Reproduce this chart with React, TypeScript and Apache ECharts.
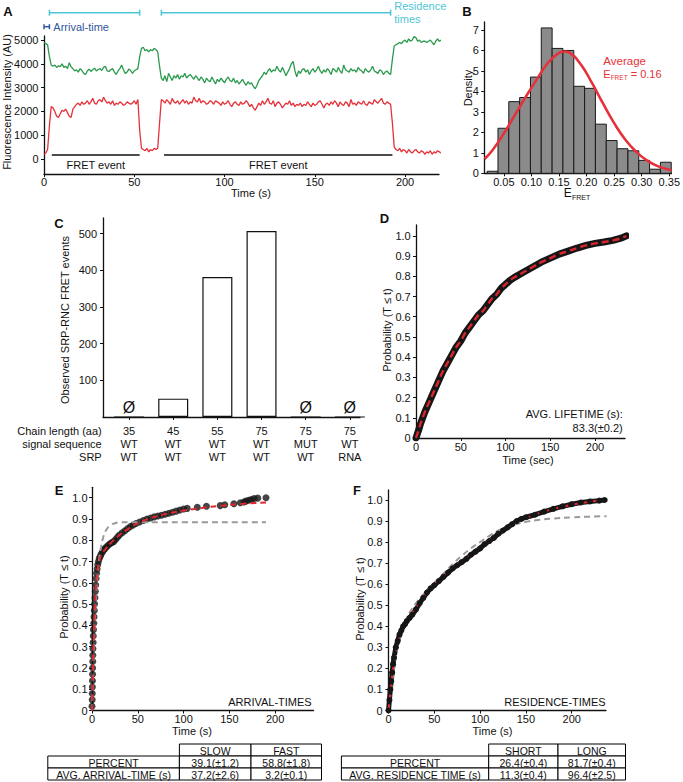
import React, { useEffect, useRef } from "react";
import * as echarts from "echarts";

const FONT = "'Liberation Sans', Arial, Helvetica, sans-serif";
const INK = "#111";
const GREEN = "#2a9a4c";
const RED = "#e5313a";
const CYAN = "#4fc6d6";
const BLUE = "#31589e";

// ---------- Panel A : single-molecule traces (1 s per point) ----------
const greenTrace = [
  4900, 4850, 4800, 4300, 3950, 3900, 3950, 3850, 3920, 3880,
  4000, 3850, 3900, 3800, 4050, 3880, 3800, 3700, 3750, 3650,
  3800, 3720, 3600, 3550, 3700, 3780, 3680, 3750, 3820, 3700,
  3760, 3800, 3720, 3850, 3900, 3700, 3680, 3750, 3800, 3650,
  3550, 3700, 3800, 3950, 3750, 3600, 3650, 3780, 3720, 3600,
  3700, 3750, 3800, 4300, 4650, 4700, 4550, 4600, 4500, 4600,
  4550, 4650, 4600, 4500, 3900, 3400, 3300, 3500, 3250, 3600,
  3450, 3300, 3500, 3400, 3550, 3350, 3500, 3450, 3600, 3400,
  3500, 3550, 3450, 3350, 3500, 3400, 3300, 3450, 3350, 3200,
  3400, 3300, 3250, 3450, 3300, 3150, 3350, 3250, 3400, 3300,
  3200, 3350, 3450, 3300, 3250, 3400, 3200, 3300, 3150, 3250,
  3350, 3200, 3100, 3250, 3150, 3200, 3050, 2950, 3100, 3300,
  3400, 3500, 3650, 3550, 3700, 3800, 3650, 3750, 3700, 3900,
  3750, 3650, 3850, 3700, 3500, 3650, 3800, 4000, 4100, 3700,
  3450, 3700, 3600, 3750, 3800, 3650, 3750, 3550, 3700, 3800,
  3650, 3750, 3900, 3700, 3600, 3750, 3650, 3800, 3700, 3550,
  3800, 3750, 3650, 3850, 3700, 3600, 3950, 3750, 3700, 3650,
  3800, 3700, 3750, 3650, 3850, 3750, 3700, 3600, 3800, 3700,
  3650, 3750, 3900, 3700, 3650, 3600, 3750, 3700, 3550, 3650,
  3700, 3600, 3550, 4200, 4750, 4800, 4850, 4900, 4850, 4950,
  5000, 4900, 5050, 4950, 5000, 5150, 5100, 4950, 5000, 4900,
  4950, 4950, 4900, 4950, 5000, 4900, 4800, 4950, 5050, 4950, 5000,
];
const redTrace = [
  200, 250, 400, 1400, 2200, 2150, 2000, 1800, 1750, 1900,
  2050, 2000, 2100, 1950, 1800, 1750, 2100, 2200, 2300, 2350,
  2250, 2400, 2300, 2350, 2450, 2300, 2400, 2550, 2350, 2300,
  2450, 2500, 2400, 2600, 2450, 2350, 2400, 2300, 2450, 2250,
  2350, 2300, 2400, 2350, 2250, 2300, 2400, 2350, 2300, 2350,
  2450, 2300, 2500, 1200, 450, 400, 350, 450, 300, 400,
  350, 450, 400, 450, 1500, 2500, 2450, 2350, 2500, 2400,
  2300, 2550, 2400, 2350, 2450, 2300, 2400, 2500, 2350, 2450,
  2300, 2400, 2350, 2600, 2450, 2400, 2550, 2350, 2450, 2400,
  2300, 2350, 2450, 2400, 2300, 2450, 2400, 2350, 2250, 2400,
  2300, 2350, 2450, 2300, 2200, 2350, 2400, 2300, 2250, 2400,
  2300, 2350, 2450, 2350, 2200, 2300, 2150, 2050, 2200, 2350,
  2250, 2450, 2300, 2400, 2550, 2350, 2300, 2450, 2200, 2350,
  2400, 2300, 2150, 2250, 2350, 2300, 2450, 2250, 2350, 2200,
  2300, 2250, 2350, 2200, 2300, 2250, 2400, 2300, 2200, 2350,
  2250, 2300, 2400, 2450, 2300, 2150, 2300, 2350, 2250, 2400,
  2300, 2450, 2350, 2200, 2400, 2300, 2250, 2400, 2350, 2200,
  2500, 2300, 2350, 2250, 2400, 2350, 2300, 2450, 2300, 2250,
  2400, 2350, 2300, 2500, 2400, 2350, 2450, 2550, 2350, 2300,
  2400, 2350, 2300, 1500, 500, 400, 350, 450, 300, 400,
  350, 250, 400, 300, 250, 350, 400, 300, 250, 350,
  300, 200, 300, 250, 350, 200, 300, 250, 350, 300, 250,
];
const aTimeTicks = [0, 50, 100, 150, 200];
const aIntensityTicks = [0, 1000, 2000, 3000, 4000, 5000];
const arrivalSpans = [[0, 3]];
const residenceSpans = [[3, 53], [65, 192]];
const fretEventSpans = [[4.3, 53], [66.5, 193]];
const A_Y_MIN = -630;
const A_Y_MAX = 5170;

// ---------- Panel B : E_FRET histogram ----------
const binEdges = [0.0196, 0.0393, 0.0589, 0.0786, 0.0982, 0.1178, 0.1375, 0.1571, 0.1768, 0.1964, 0.216, 0.2357, 0.2553, 0.275, 0.2946, 0.3142, 0.3339, 0.3535];
const binDensity = [0.1, 2.2, 3.5, 3.7, 4.7, 7.1, 6.1, 6.0, 4.25, 4.15, 2.4, 1.6, 1.2, 1.1, 0.63, 0.2, 0.54];
const fitX = [0.015, 0.03, 0.05, 0.07, 0.09, 0.11, 0.13, 0.15, 0.16, 0.17, 0.19, 0.21, 0.23, 0.25, 0.27, 0.29, 0.31, 0.33, 0.354];
const fitDensity = [0.7, 1.15, 1.95, 2.85, 3.75, 4.6, 5.4, 5.88, 5.95, 5.88, 5.3, 4.4, 3.4, 2.45, 1.65, 1.05, 0.62, 0.34, 0.15];
const bDensityTicks = [0, 1, 2, 3, 4, 5, 6, 7];
const bEfretTicks = [0.05, 0.1, 0.15, 0.2, 0.25, 0.3, 0.35];

// ---------- Panel C : observed events ----------
const chainLength = ["35", "45", "55", "75", "75", "75"];
const signalSequence = ["WT", "WT", "WT", "WT", "MUT", "WT"];
const srpType = ["WT", "WT", "WT", "WT", "WT", "RNA"];
const observedEvents = [0, 50, 382, 507, 0, 0];
const cEventTicks = [100, 200, 300, 400, 500];

// ---------- Panel D : lifetime CDF ----------
const lifeT = [0, 3, 5, 10, 15, 20, 25, 30, 35, 40, 45, 50, 55, 60, 65, 70, 75, 80, 85, 90, 95, 100, 105, 110, 120, 130, 140, 150, 160, 170, 180, 190, 200, 210, 220, 230, 235];
const lifeP = [0, 0.04, 0.07, 0.13, 0.18, 0.23, 0.28, 0.33, 0.37, 0.41, 0.45, 0.48, 0.52, 0.55, 0.58, 0.61, 0.63, 0.66, 0.69, 0.71, 0.74, 0.76, 0.78, 0.795, 0.82, 0.845, 0.87, 0.89, 0.91, 0.925, 0.94, 0.953, 0.963, 0.97, 0.978, 0.99, 1.0];
const probTicks = [0, 0.1, 0.2, 0.3, 0.4, 0.5, 0.6, 0.7, 0.8, 0.9, 1.0];
const timeTicks = [0, 50, 100, 150, 200];

// ---------- Panel E : arrival times ----------
const arrT = [0, 0.2, 0.3, 0.4, 0.5, 0.6, 0.7, 0.8, 0.9, 1, 1.2, 1.4, 1.6, 1.9, 2.2, 2.5, 2.8, 3.2, 3.6, 4, 4.5, 5, 5.6, 6.2, 7, 8, 9, 10, 11.5, 13, 14.5, 16, 18, 20, 22, 24, 26, 28, 30, 33, 36, 39, 42, 45, 48, 52, 56, 60, 64, 68, 72, 76, 80, 84, 88, 92, 96, 100, 104, 115, 125, 140, 145, 155, 162, 166, 168, 171, 174, 177, 181, 190];
const arrP = [
  0.02, 0.05, 0.08, 0.11, 0.14, 0.17, 0.2, 0.23, 0.26, 0.29,
  0.32, 0.35, 0.38, 0.41, 0.44, 0.47, 0.5, 0.53, 0.56, 0.59,
  0.62, 0.645, 0.665, 0.685, 0.7, 0.715, 0.725, 0.735, 0.745, 0.755,
  0.762, 0.77, 0.778, 0.785, 0.79, 0.795, 0.805, 0.815, 0.825, 0.835,
  0.845, 0.855, 0.865, 0.872, 0.879, 0.886, 0.893, 0.9, 0.905, 0.91,
  0.914, 0.918, 0.922, 0.927, 0.932, 0.937, 0.942, 0.947, 0.95, 0.955,
  0.96, 0.963, 0.967, 0.972, 0.976, 0.98, 0.984, 0.988, 0.992, 0.996,
  0.998, 1.0,
];
const arrFitT = [0, 1, 2, 3, 4, 5, 6, 8, 10, 15, 20, 30, 40, 50, 60, 70, 80, 100, 120, 140, 160, 190];
const arrFitP = [0, 0.2, 0.35, 0.47, 0.56, 0.62, 0.66, 0.7, 0.73, 0.76, 0.785, 0.825, 0.855, 0.88, 0.898, 0.912, 0.923, 0.94, 0.952, 0.962, 0.97, 0.978];
const arrSingleT = [0, 2, 4, 6, 8, 10, 12, 15, 20, 25, 30, 40, 190];
const arrSingleP = [0, 0.3, 0.5, 0.63, 0.72, 0.77, 0.81, 0.845, 0.87, 0.88, 0.884, 0.885, 0.885];

// ---------- Panel F : residence times ----------
const resT = [0, 1, 2, 3, 4, 5, 6, 8, 10, 12, 14, 16, 18, 20, 23, 26, 30, 34, 38, 42, 46, 50, 55, 60, 65, 70, 75, 80, 85, 90, 95, 100, 105, 110, 115, 120, 125, 130, 135, 140, 145, 150, 160, 170, 180, 190, 200, 210, 220, 230, 236];
const resP = [0, 0.05, 0.1, 0.14, 0.18, 0.22, 0.25, 0.3, 0.33, 0.36, 0.38, 0.4, 0.41, 0.425, 0.44, 0.455, 0.48, 0.51, 0.535, 0.56, 0.58, 0.595, 0.615, 0.635, 0.655, 0.675, 0.69, 0.705, 0.72, 0.74, 0.755, 0.77, 0.79, 0.805, 0.82, 0.84, 0.855, 0.87, 0.885, 0.9, 0.91, 0.918, 0.93, 0.945, 0.958, 0.97, 0.98, 0.988, 0.993, 0.997, 1.0];
const resFitT = [0, 2, 5, 10, 15, 20, 30, 40, 50, 60, 70, 80, 90, 100, 110, 120, 130, 140, 150, 170, 190, 210, 238];
const resFitP = [0, 0.09, 0.2, 0.32, 0.39, 0.43, 0.49, 0.55, 0.6, 0.64, 0.675, 0.71, 0.74, 0.775, 0.81, 0.84, 0.87, 0.895, 0.915, 0.945, 0.968, 0.985, 1.003];
const resSingleT = [0, 5, 10, 15, 20, 30, 40, 50, 60, 70, 80, 90, 100, 110, 120, 130, 140, 150, 165, 180, 200, 220, 238];
const resSingleP = [0, 0.17, 0.3, 0.38, 0.44, 0.51, 0.56, 0.605, 0.65, 0.695, 0.735, 0.77, 0.8, 0.83, 0.855, 0.873, 0.886, 0.896, 0.906, 0.912, 0.917, 0.921, 0.923];

// ---------- Tables ----------
const arrivalHeaders = ["SLOW", "FAST"];
const arrivalRows = [
  ["PERCENT", "39.1(±1.2)", "58.8(±1.8)"],
  ["AVG. ARRIVAL-TIME (s)", "37.2(±2.6)", "3.2(±0.1)"],
];
const residenceHeaders = ["SHORT", "LONG"];
const residenceRows = [
  ["PERCENT", "26.4(±0.4)", "81.7(±0.4)"],
  ["AVG. RESIDENCE TIME (s)", "11.3(±0.4)", "96.4(±2.5)"],
];

const zip = (xs: number[], ys: number[]) => xs.map((x, i) => [x, ys[i]]);
const probFmt = (v: number) => (v === 0 ? "0" : v.toFixed(1));
const plainFmt = (v: number) => String(v);

function valueAxis(gridIndex: number, min: number, max: number, ticks: number[] | null, margin: number, fmt: any = plainFmt, extra: any = {}) {
  return {
    type: "value",
    gridIndex,
    min,
    max,
    axisLine: { show: true, onZero: false, lineStyle: { color: INK, width: 1.3 } },
    axisTick: ticks ? { show: true, customValues: ticks, length: 3, lineStyle: { color: INK, width: 1 } } : { show: false },
    axisLabel: ticks
      ? { show: true, customValues: ticks, margin, fontSize: 11, color: INK, fontFamily: FONT, formatter: fmt }
      : { show: false },
    splitLine: { show: false },
    ...extra,
  };
}

function txt(text: string, x: number, y: number, opts: any = {}, el: any = {}) {
  return {
    type: "text",
    x,
    y,
    silent: true,
    ...el,
    style: { text, fontFamily: FONT, fontSize: 11, fill: INK, align: "center", verticalAlign: "middle", ...opts },
  };
}

function table(cols: number[], top: number, rowH: number, headers: string[], rows: string[][]) {
  const els: any[] = [];
  const cell = (x0: number, x1: number, y: number) => ({
    type: "rect",
    silent: true,
    shape: { x: x0, y, width: x1 - x0, height: rowH },
    style: { fill: "#fff", stroke: "#000", lineWidth: 1 },
  });
  headers.forEach((h, j) => {
    els.push(cell(cols[j + 1], cols[j + 2], top));
    els.push(txt(h, (cols[j + 1] + cols[j + 2]) / 2, top + rowH / 2 + 0.5, { fontSize: 10.5 }));
  });
  rows.forEach((r, i) => {
    r.forEach((c, j) => {
      const y = top + (i + 1) * rowH;
      els.push(cell(cols[j], cols[j + 1], y));
      els.push(txt(c, (cols[j] + cols[j + 1]) / 2, y + rowH / 2 + 0.5, { fontSize: 10.5 }));
    });
  });
  return els;
}

const subRich = {
  e: { fontSize: 12, fontFamily: FONT, fill: INK, lineHeight: 16, verticalAlign: "middle" },
  s: { fontSize: 7, fontFamily: FONT, fill: INK, lineHeight: 16, verticalAlign: "bottom" },
};
const subRichRed = {
  e: { fontSize: 11, fontFamily: FONT, fill: RED, lineHeight: 15, verticalAlign: "middle" },
  s: { fontSize: 6.5, fontFamily: FONT, fill: RED, lineHeight: 15, verticalAlign: "bottom" },
};

function buildOption() {
  const grids = [
    { left: 44, top: 36, width: 395, height: 138 },
    { left: 484.3, top: 22, width: 190.7, height: 151.3 },
    { left: 103, top: 218, width: 257, height: 199 },
    { left: 416, top: 225, width: 209, height: 213 },
    { left: 92, top: 487.3, width: 221.5, height: 223.2 },
    { left: 388.5, top: 490, width: 217.5, height: 220.5 },
  ];

  const xAxis = [
    valueAxis(0, 0, 218.8, aTimeTicks, 2),
    valueAxis(1, 0.0145, 0.354, bEfretTicks, 3, (v: number) => v.toFixed(2)),
    valueAxis(2, -0.59, 5.23, [0, 1, 2, 3, 4, 5], 7, (v: number) => `${chainLength[v]}\n${signalSequence[v]}\n${srpType[v]}`),
    valueAxis(3, 0, 233.5, timeTicks, 3),
    valueAxis(4, 0, 241.9, timeTicks, 3),
    valueAxis(5, 0, 237.4, timeTicks, 3),
  ];
  (xAxis[2] as any).axisLabel.lineHeight = 13.3;

  const yAxis = [
    valueAxis(0, A_Y_MIN, A_Y_MAX, aIntensityTicks, 5.5),
    valueAxis(1, 0, 7.39, bDensityTicks, 5.5),
    valueAxis(2, 0, 542.7, cEventTicks, 6),
    valueAxis(3, 0, 1.054, probTicks, 5.3, probFmt),
    valueAxis(4, 0, 1.049, probTicks, 4.5, probFmt),
    valueAxis(5, 0, 1.0475, probTicks, 6, probFmt),
  ];

  const bracket = (color: string, dy: number, cap: number) => (params: any, api: any) => {
    const x0 = api.coord([api.value(0), 0])[0];
    const x1 = api.coord([api.value(1), 0])[0];
    const y = api.coord([0, A_Y_MAX])[1] - dy;
    const st = { stroke: color, lineWidth: 1.5 };
    return {
      type: "group",
      children: [
        { type: "line", shape: { x1: x0, y1: y, x2: x1, y2: y }, style: st },
        { type: "line", shape: { x1: x0, y1: y - cap, x2: x0, y2: y + cap }, style: st },
        { type: "line", shape: { x1: x1, y1: y - cap, x2: x1, y2: y + cap }, style: st },
      ],
    };
  };

  const series: any[] = [
    // Panel A
    {
      type: "line", xAxisIndex: 0, yAxisIndex: 0, silent: true, showSymbol: false,
      data: greenTrace.map((v, i) => [i, v]), lineStyle: { color: GREEN, width: 1.3 },
    },
    {
      type: "line", xAxisIndex: 0, yAxisIndex: 0, silent: true, showSymbol: false,
      data: redTrace.map((v, i) => [i, v]), lineStyle: { color: RED, width: 1.3 },
    },
    { type: "custom", xAxisIndex: 0, yAxisIndex: 0, clip: false, silent: true, data: residenceSpans, renderItem: bracket(CYAN, 23.3, 3) },
    { type: "custom", xAxisIndex: 0, yAxisIndex: 0, clip: false, silent: true, data: arrivalSpans, renderItem: bracket(BLUE, 9.3, 2.5) },
    {
      type: "custom", xAxisIndex: 0, yAxisIndex: 0, clip: false, silent: true, data: fretEventSpans,
      renderItem: (params: any, api: any) => {
        const x0 = api.coord([api.value(0), 0])[0];
        const x1 = api.coord([api.value(1), 0])[0];
        const y0 = api.coord([0, 0])[1];
        return {
          type: "group",
          children: [
            { type: "line", shape: { x1: x0, y1: y0 - 4, x2: x1, y2: y0 - 4 }, style: { stroke: INK, lineWidth: 1.5 } },
            {
              type: "text", x: (x0 + x1) / 2, y: y0 + 5.5,
              style: { text: "FRET event", fontFamily: FONT, fontSize: 11, fill: INK, align: "center", verticalAlign: "middle" },
            },
          ],
        };
      },
    },
    // Panel B
    {
      type: "custom", xAxisIndex: 1, yAxisIndex: 1, silent: true,
      data: binDensity.map((h, i) => [binEdges[i], binEdges[i + 1], h]),
      encode: { x: [0, 1], y: 2 },
      renderItem: (params: any, api: any) => {
        const p0 = api.coord([api.value(0), api.value(2)]);
        const p1 = api.coord([api.value(1), 0]);
        return {
          type: "rect",
          shape: { x: p0[0], y: p0[1], width: p1[0] - p0[0], height: p1[1] - p0[1] },
          style: { fill: "#8b8b8b", stroke: "#1a1a1a", lineWidth: 1 },
        };
      },
    },
    {
      type: "line", xAxisIndex: 1, yAxisIndex: 1, silent: true, showSymbol: false, smooth: true,
      data: zip(fitX, fitDensity), lineStyle: { color: RED, width: 2.6 },
    },
    // Panel C
    {
      type: "bar", xAxisIndex: 2, yAxisIndex: 2, silent: true, barWidth: 30,
      data: observedEvents.map((v, i) => [i, v]),
      itemStyle: { color: "#fff", borderColor: INK, borderWidth: 1.2 },
      label: {
        show: true, position: "top", distance: 1, fontSize: 16, color: INK, fontFamily: FONT,
        formatter: (p: any) => (p.value[1] === 0 ? "Ø" : ""),
      },
    },
    // Panel D
    {
      type: "line", xAxisIndex: 3, yAxisIndex: 3, silent: true, showSymbol: false,
      data: zip(lifeT, lifeP), lineStyle: { color: "#161616", width: 7, cap: "round" },
    },
    {
      type: "line", xAxisIndex: 3, yAxisIndex: 3, silent: true, showSymbol: false, smooth: true,
      data: zip(lifeT, lifeP), lineStyle: { color: "#d8262f", width: 2.4, type: [7, 4] },
    },
    // Panel E
    {
      type: "scatter", xAxisIndex: 4, yAxisIndex: 4, silent: true, symbolSize: 7,
      data: zip(arrT, arrP), itemStyle: { color: "#161616" },
    },
    {
      type: "line", xAxisIndex: 4, yAxisIndex: 4, silent: true, showSymbol: false, smooth: true,
      data: zip(arrSingleT, arrSingleP), lineStyle: { color: "#9a9a9a", width: 2, type: [6, 4] },
    },
    {
      type: "line", xAxisIndex: 4, yAxisIndex: 4, silent: true, showSymbol: false, smooth: true,
      data: zip(arrFitT, arrFitP), lineStyle: { color: "#e0262f", width: 2, type: [6, 4] },
    },
    // Panel F
    {
      type: "line", xAxisIndex: 5, yAxisIndex: 5, silent: true, showSymbol: true, symbol: "circle", symbolSize: 6,
      data: zip(resT, resP), lineStyle: { color: "#161616", width: 5 }, itemStyle: { color: "#161616" },
    },
    {
      type: "line", xAxisIndex: 5, yAxisIndex: 5, silent: true, showSymbol: false, smooth: true,
      data: zip(resSingleT, resSingleP), lineStyle: { color: "#9a9a9a", width: 2, type: [6, 4] },
    },
    {
      type: "line", xAxisIndex: 5, yAxisIndex: 5, silent: true, showSymbol: false, smooth: true,
      data: zip(resFitT, resFitP), lineStyle: { color: "#e0262f", width: 2, type: [6, 4] },
    },
  ];

  const rot = { rotation: Math.PI / 2 };
  const bold = { fontSize: 13, fontWeight: "bold" };
  const graphic: any[] = [
    // panel letters
    txt("A", 8, 11, bold), txt("B", 467, 11, bold), txt("C", 59, 223, bold),
    txt("D", 384.5, 218, bold), txt("E", 59, 490, bold), txt("F", 357, 490, bold),
    // panel A annotations
    txt("Arrival-time", 53.3, 26.7, { fill: BLUE, align: "left" }),
    txt("Residence\ntimes", 394.3, 0, { fill: CYAN, align: "left", verticalAlign: "top", lineHeight: 12.6 }),
    txt("Fluorescence Intensity (AU)", 7, 102, {}, rot),
    txt("Time (s)", 251, 193),
    // panel B
    txt("Density", 467.5, 88, {}, rot),
    txt("{e|E}{s|FRET}", 577, 193, { rich: subRich }),
    txt("Average", 603.3, 60.7, { fill: RED, align: "left", fontSize: 11.5 }),
    txt("{e|E}{s|FRET}{e| = 0.16}", 603.3, 73.5, { fill: RED, align: "left", rich: subRichRed }),
    // panel C
    txt("Observed SRP-RNC FRET events", 65, 320, {}, rot),
    txt("Chain length (aa)", 101.7, 430.7, { align: "right" }),
    txt("signal sequence", 101.7, 444, { align: "right" }),
    txt("SRP", 101.7, 457.3, { align: "right" }),
    // panel D
    txt("Probability (T \u2264 t)", 387, 330, {}, rot),
    txt("Time (sec)", 528, 459.5),
    txt("AVG. LIFETIME (s):", 622.7, 414, { align: "right" }),
    txt("83.3(\u00b10.2)", 622.7, 428, { align: "right" }),
    // panel E
    txt("Probability (T \u2264 t)", 64, 597, {}, rot),
    txt("Time (s)", 192, 731),
    txt("ARRIVAL-TIMES", 311.7, 702.3, { align: "right" }),
    // panel F
    txt("Probability (T \u2264 t)", 359.5, 599, {}, rot),
    txt("Time (s)", 492.5, 731),
    txt("RESIDENCE-TIMES", 605.7, 701.7, { align: "right" }),
    // tables
    ...table([47.8, 179.4, 251, 321.5], 744, 12, arrivalHeaders, arrivalRows),
    ...table([341.4, 488.7, 558, 625.5], 744, 12, residenceHeaders, residenceRows),
  ];

  return {
    animation: false,
    backgroundColor: "#fff",
    textStyle: { fontFamily: FONT },
    grid: grids,
    xAxis,
    yAxis,
    series,
    graphic,
  };
}

export default function App() {
  const ref = useRef<HTMLDivElement>(null);
  useEffect(() => {
    if (!ref.current) return;
    const chart = echarts.init(ref.current, null, { renderer: "svg" });
    chart.setOption(buildOption() as any);
    return () => chart.dispose();
  }, []);
  return (
    <div
      ref={ref}
      style={{ position: "absolute", left: 0, top: 0, width: 683, height: 782, background: "#fff" }}
    />
  );
}
